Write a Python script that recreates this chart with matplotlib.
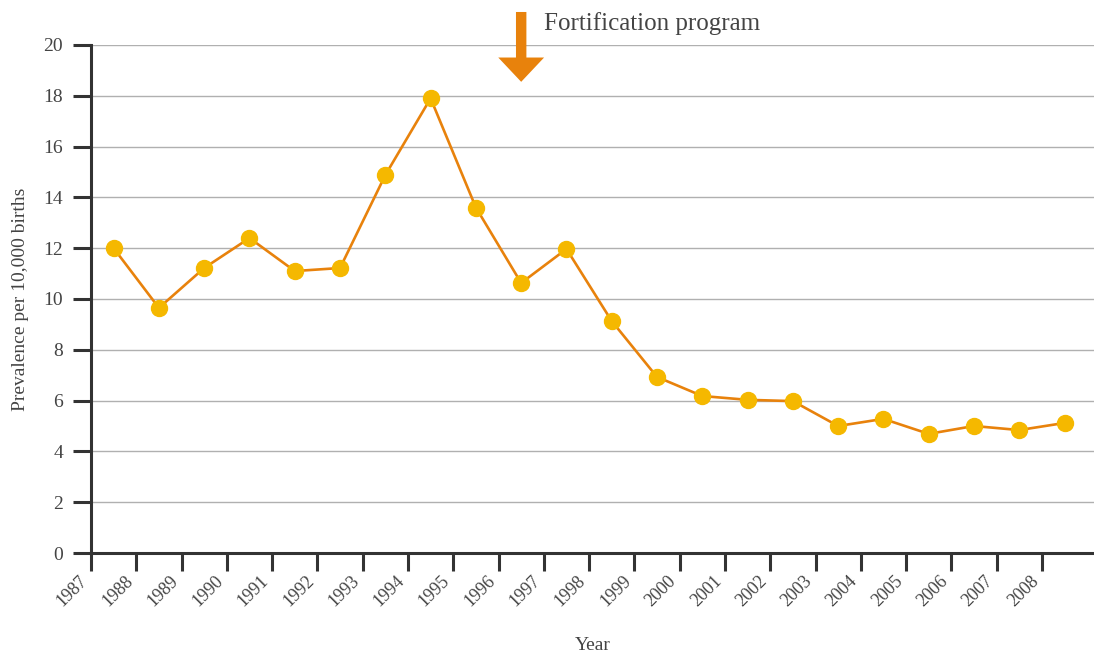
import numpy as np
import matplotlib.pyplot as plt

# ==========================
# DATA
# ==========================

years = list(range(1987, 2009))
prevalence = [12.0, 9.65, 11.22, 12.4, 11.1, 11.22, 14.88, 17.9, 13.6, 10.63,
              11.97, 9.13, 6.93, 6.18, 6.03, 5.98, 5.0, 5.28, 4.69, 5.0, 4.84, 5.12]
tick_years = list(range(1987, 2009))
y_ticks = [0, 2, 4, 6, 8, 10, 12, 14, 16, 18, 20]
program_year = 1996.5
program_label = "Fortification program"

# ==========================
# STYLE
# ==========================

plt.rcParams['font.family'] = ['Liberation Serif', 'DejaVu Serif']
text_col = '#444444'
line_col = '#e8820c'
dot_col = '#f5b800'
spine_col = '#333333'

fig = plt.figure(figsize=(10.94, 6.59), dpi=100)
ax = fig.add_axes([91 / 1094, 1 - 553 / 659, 1 - 91 / 1094, (553 - 45) / 659])

# points sit in the middle of each year
x = np.array(years) + 0.5
ax.plot(x, prevalence, color=line_col, lw=1.9, zorder=3,
        marker='o', markersize=11.5, markerfacecolor=dot_col,
        markeredgecolor=dot_col)

ax.set_xlim(1987, 2009.15)
ax.set_ylim(0, 20)
ax.set_yticks(y_ticks)
ax.set_xticks(tick_years)
ax.set_xticklabels([str(t) for t in tick_years], rotation=45,
                   ha='right', va='top')

ax.grid(axis='y', color='#b0b0b0', lw=1)
ax.set_axisbelow(True)

for s in ['top', 'right']:
    ax.spines[s].set_visible(False)
for s in ['left', 'bottom']:
    ax.spines[s].set_color(spine_col)
    ax.spines[s].set_linewidth(2.2)

ax.tick_params(axis='both', colors=spine_col, width=2.2, length=13,
               direction='out', labelcolor=text_col)
ax.tick_params(axis='y', labelsize=14, pad=7)
ax.tick_params(axis='x', labelsize=13, pad=1)

ax.set_ylabel("Prevalence per 10,000 births", fontsize=14, color=text_col)
ax.yaxis.set_label_coords(-0.062, 0.5)
ax.set_xlabel("Year", fontsize=14, color=text_col)
ax.xaxis.set_label_coords(0.5, -0.165)

# ==========================
# ANNOTATION ARROW
# ==========================

ax.annotate('', xy=(program_year, 18.55), xytext=(program_year, 21.3),
            annotation_clip=False,
            arrowprops=dict(arrowstyle='simple,head_width=3.3,head_length=1.75,tail_width=0.75',
                            mutation_scale=10, color=line_col, lw=0,
                            shrinkA=0, shrinkB=0))
ax.text(program_year + 0.5, 20.85, program_label, fontsize=18,
        color=text_col, va='center', ha='left', clip_on=False)

fig.savefig("out.png", dpi=100)
